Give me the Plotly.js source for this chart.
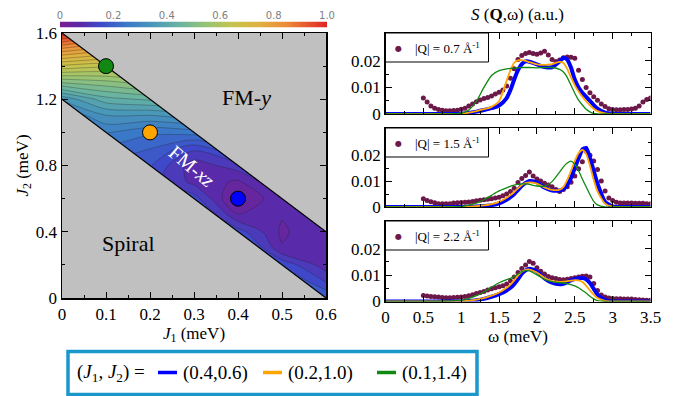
<!DOCTYPE html>
<html><head><meta charset="utf-8">
<script src="https://cdn.plot.ly/plotly-3.0.1.min.js"></script>
<style>html,body{margin:0;padding:0;background:#fff}#chart{width:676px;height:396px}</style>
</head><body><div id="chart"></div>
<script>
// ---------------- DATA ----------------
// Phase diagram grid (J1 columns, J2 rows), order-parameter value
const J1_GRID = [0, 0.1, 0.2, 0.3, 0.4, 0.5, 0.6];
const J2_GRID = [0, 0.1, 0.2, 0.3, 0.4, 0.5, 0.6, 0.7, 0.8, 0.9, 1.0, 1.1, 1.2, 1.3, 1.4, 1.5, 1.6];
const ORDER_PARAM = [
  [0.20, 0.20, 0.20, 0.20, 0.22, 0.22, 0.20],
  [0.20, 0.20, 0.20, 0.20, 0.22, 0.22, 0.13],
  [0.20, 0.20, 0.20, 0.20, 0.22, 0.16, 0.08],
  [0.20, 0.20, 0.20, 0.20, 0.22, 0.07, 0.08],
  [0.20, 0.20, 0.20, 0.22, 0.15, 0.06, 0.10],
  [0.20, 0.20, 0.20, 0.20, 0.07, 0.07, 0.13],
  [0.20, 0.20, 0.18, 0.15, 0.02, 0.10, 0.15],
  [0.20, 0.20, 0.15, 0.09, 0.06, 0.14, 0.16],
  [0.20, 0.20, 0.17, 0.08, 0.12, 0.16, 0.18],
  [0.22, 0.22, 0.20, 0.14, 0.20, 0.20, 0.20],
  [0.20, 0.27, 0.24, 0.25, 0.25, 0.25, 0.25],
  [0.26, 0.33, 0.33, 0.35, 0.35, 0.35, 0.35],
  [0.34, 0.42, 0.44, 0.45, 0.45, 0.45, 0.45],
  [0.50, 0.52, 0.55, 0.55, 0.55, 0.55, 0.55],
  [0.66, 0.64, 0.65, 0.65, 0.65, 0.65, 0.65],
  [0.82, 0.78, 0.75, 0.75, 0.75, 0.75, 0.75],
  [1.00, 0.92, 0.85, 0.85, 0.85, 0.85, 0.85]
];
// Phase boundaries of the FM-xz band (J2 = 1.6-2J1 and J2 = 1.2-2J1)
const BOUND_J1 = [-0.05, 0.65];
const UPPER_J2 = [1.7, 0.3];
const LOWER_J2 = [1.3, -0.1];
// Selected (J1,J2) parameter points
const PT_J1 = [0.4, 0.2, 0.1];
const PT_J2 = [0.6, 1.0, 1.4];
const PT_COLORS = ['#0000ff', '#ffa500', '#118811'];

// S(Q,w) panels
const Q_LABELS = ['0.7', '1.5', '2.2'];
const OMEGA_DATA = [0.50,0.55,0.60,0.65,0.70,0.75,0.80,0.85,0.90,0.95,
  1.00,1.05,1.10,1.15,1.20,1.25,1.30,1.35,1.40,1.45,
  1.50,1.55,1.60,1.65,1.70,1.75,1.80,1.85,1.90,1.95,
  2.00,2.05,2.10,2.15,2.20,2.25,2.30,2.35,2.40,2.45,
  2.50,2.55,2.60,2.65,2.70,2.75,2.80,2.85,2.90,2.95,
  3.00,3.05,3.10,3.15,3.20,3.25,3.30,3.35,3.40,3.45,3.50];
const S_DATA_Q07 = [0.0060,0.0045,0.0030,0.0022,0.0017,0.0014,0.0012,0.0012,0.0013,0.0014,
  0.0018,0.0022,0.0030,0.0038,0.0046,0.0053,0.0058,0.0062,0.0068,0.0075,
  0.0082,0.0090,0.0105,0.0135,0.0170,0.0205,0.0220,0.0228,0.0232,0.0228,
  0.0225,0.0230,0.0236,0.0222,0.0205,0.0198,0.0203,0.0212,0.0215,0.0214,
  0.0210,0.0165,0.0130,0.0100,0.0080,0.0065,0.0052,0.0038,0.0028,0.0020,
  0.0017,0.0016,0.0016,0.0017,0.0017,0.0019,0.0022,0.0030,0.0045,0.0055,0.0060];
const S_DATA_Q15 = [0.0032,0.0025,0.0020,0.0016,0.0013,0.0013,0.0013,0.0013,0.0015,0.0016,
  0.0017,0.0018,0.0019,0.0021,0.0024,0.0026,0.0028,0.0030,0.0032,0.0035,
  0.0038,0.0043,0.0050,0.0060,0.0072,0.0095,0.0110,0.0122,0.0135,0.0120,
  0.0108,0.0100,0.0092,0.0085,0.0078,0.0068,0.0060,0.0068,0.0078,0.0096,
  0.0120,0.0148,0.0175,0.0215,0.0200,0.0178,0.0145,0.0100,0.0062,0.0035,
  0.0025,0.0018,0.0015,0.0015,0.0015,0.0015,0.0014,0.0014,0.0014,0.0013,0.0013];
const S_DATA_Q22 = [0.0023,0.0021,0.0019,0.0018,0.0017,0.0015,0.0014,0.0014,0.0015,0.0016,
  0.0017,0.0019,0.0022,0.0026,0.0030,0.0034,0.0038,0.0044,0.0048,0.0052,
  0.0056,0.0060,0.0066,0.0078,0.0093,0.0110,0.0125,0.0138,0.0152,0.0145,
  0.0128,0.0115,0.0104,0.0095,0.0090,0.0087,0.0083,0.0082,0.0084,0.0087,
  0.0090,0.0093,0.0096,0.0097,0.0093,0.0068,0.0042,0.0025,0.0017,0.0013,
  0.0011,0.0010,0.0010,0.0009,0.0009,0.0009,0.0008,0.0007,0.0006,0.0005,0.0005];

const OMEGA_FIT = [0, 0.8, 1.0, 1.1, 1.2, 1.3, 1.4, 1.5, 1.6, 1.65, 1.7, 1.75, 1.8, 1.85, 1.9,
  2.0, 2.1, 2.2, 2.3, 2.35, 2.4, 2.45, 2.5, 2.55, 2.6, 2.65, 2.7, 2.75, 2.8, 2.9, 3.0, 3.1, 3.5];
// fits for (0.4,0.6) blue, (0.2,1.0) orange, (0.1,1.4) green
const FIT_Q07_A = [0,0,0.0001,0.0004,0.0009,0.0015,0.0022,0.0032,0.0060,0.0090,0.0130,0.0165,0.0188,0.0198,0.0197,
  0.0187,0.0177,0.0176,0.0198,0.0212,0.0205,0.0175,0.0130,0.0100,0.0080,0.0065,0.0050,0.0033,0.0020,0.0005,0.0001,0,0];
const FIT_Q07_B = [0,0,0.0001,0.0005,0.0011,0.0018,0.0027,0.0048,0.0125,0.0165,0.0193,0.0202,0.0203,0.0200,0.0195,
  0.0187,0.0185,0.0188,0.0196,0.0192,0.0170,0.0138,0.0108,0.0085,0.0065,0.0048,0.0033,0.0020,0.0011,0.0002,0,0,0];
const FIT_Q07_C = [0,0,0.0003,0.0015,0.0048,0.0100,0.0145,0.0163,0.0170,0.0172,0.0173,0.0174,0.0175,0.0175,0.0175,
  0.0174,0.0175,0.0175,0.0168,0.0158,0.0138,0.0108,0.0078,0.0052,0.0034,0.0018,0.0008,0.0002,0,0,0,0,0];
const FIT_Q15_A = [0,0,0,0.0001,0.0002,0.0004,0.0007,0.0014,0.0028,0.0038,0.0050,0.0066,0.0082,0.0093,0.0100,
  0.0095,0.0075,0.0064,0.0064,0.0070,0.0085,0.0112,0.0150,0.0188,0.0222,0.0228,0.0190,0.0140,0.0090,0.0020,0.0002,0,0];
const FIT_Q15_B = [0,0,0,0.0001,0.0003,0.0006,0.0011,0.0020,0.0036,0.0046,0.0058,0.0072,0.0085,0.0092,0.0095,
  0.0090,0.0076,0.0066,0.0067,0.0078,0.0105,0.0140,0.0178,0.0208,0.0220,0.0205,0.0160,0.0105,0.0060,0.0013,0.0001,0,0];
const FIT_Q15_C = [0,0,0.0002,0.0007,0.0015,0.0028,0.0045,0.0062,0.0074,0.0080,0.0084,0.0087,0.0089,0.0089,0.0087,
  0.0081,0.0080,0.0098,0.0135,0.0155,0.0170,0.0177,0.0165,0.0140,0.0108,0.0078,0.0048,0.0022,0.0008,0,0,0,0];
const FIT_Q22_A = [0,0,0,0.0002,0.0005,0.0010,0.0018,0.0028,0.0042,0.0052,0.0066,0.0085,0.0105,0.0118,0.0124,
  0.0114,0.0088,0.0071,0.0065,0.0067,0.0073,0.0080,0.0085,0.0088,0.0089,0.0084,0.0070,0.0048,0.0026,0.0005,0,0,0];
const FIT_Q22_B = [0,0,0,0.0003,0.0007,0.0013,0.0022,0.0034,0.0052,0.0064,0.0080,0.0098,0.0113,0.0120,0.0121,
  0.0110,0.0090,0.0077,0.0074,0.0075,0.0077,0.0079,0.0081,0.0080,0.0074,0.0060,0.0042,0.0026,0.0013,0.0002,0,0,0];
const FIT_Q22_C = [0,0.0001,0.0005,0.0012,0.0022,0.0036,0.0054,0.0071,0.0083,0.0088,0.0094,0.0104,0.0113,0.0117,0.0116,
  0.0101,0.0084,0.0075,0.0071,0.0070,0.0068,0.0064,0.0059,0.0052,0.0042,0.0032,0.0020,0.0010,0.0003,0,0,0,0];

const CB_TICKS = [0, 0.2, 0.4, 0.6, 0.8, 1.0];
const CB_TICKTEXT = ['0', '0.2', '0.4', '0.6', '0.8', '1.0'];
const S_TICKS = [0, 0.01, 0.02];
const S_TICKTEXT = ['0', '0.01', '0.02'];

// ---------------- STYLE ----------------
const W = 676, H = 396;
const px = a => a / W;
const py = b => 1 - b / H;
const SERIF = 'Liberation Serif';
const DOT_COLOR = '#6c1848';
const FIT_COLORS = PT_COLORS;
const FIT_WIDTHS = [4, 1.8, 1.3];
const GRAY = '#c0c0c0';
const COLORSCALE = [
  [0.00, '#7a1e8e'], [0.08, '#5a2aa8'], [0.15, '#3e48c8'], [0.25, '#3a78c8'],
  [0.35, '#4a98b8'], [0.45, '#6ab4a0'], [0.55, '#98c474'], [0.65, '#c6c44c'],
  [0.75, '#e0b040'], [0.85, '#ec8a38'], [1.00, '#e02424']
];

const traces = [];
traces.push({
  type: 'contour', x: J1_GRID, y: J2_GRID, z: ORDER_PARAM, xaxis: 'x', yaxis: 'y',
  colorscale: COLORSCALE, zmin: 0, zmax: 1, showscale: false, hoverinfo: 'skip',
  contours: {start: 0, end: 1, size: 1/30, coloring: 'fill'},
  line: {color: 'rgba(30,30,30,0.5)', width: 0.6, smoothing: 0.8}
});
traces.push({
  type: 'scatter', mode: 'lines', xaxis: 'x', yaxis: 'y', hoverinfo: 'skip', showlegend: false,
  x: [BOUND_J1[0], BOUND_J1[1], 0.7, 0.7, BOUND_J1[0]],
  y: [UPPER_J2[0], UPPER_J2[1], UPPER_J2[1], 1.8, 1.8],
  fill: 'toself', fillcolor: GRAY, line: {width: 0}
});
traces.push({
  type: 'scatter', mode: 'lines', xaxis: 'x', yaxis: 'y', hoverinfo: 'skip', showlegend: false,
  x: [BOUND_J1[0], BOUND_J1[1], BOUND_J1[0]],
  y: [LOWER_J2[0], LOWER_J2[1], LOWER_J2[1]],
  fill: 'toself', fillcolor: GRAY, line: {width: 0}
});
[UPPER_J2, LOWER_J2].forEach(b => traces.push({
  type: 'scatter', mode: 'lines', xaxis: 'x', yaxis: 'y', hoverinfo: 'skip', showlegend: false,
  x: BOUND_J1, y: b, line: {color: '#000', width: 1.2}
}));
traces.push({
  type: 'scatter', mode: 'markers', xaxis: 'x', yaxis: 'y', showlegend: false,
  x: PT_J1, y: PT_J2, cliponaxis: false,
  marker: {color: PT_COLORS, size: 15, line: {color: '#000', width: 1}}
});

const DATA_SETS = [S_DATA_Q07, S_DATA_Q15, S_DATA_Q22];
const FITS = [[FIT_Q07_A, FIT_Q07_B, FIT_Q07_C], [FIT_Q15_A, FIT_Q15_B, FIT_Q15_C], [FIT_Q22_A, FIT_Q22_B, FIT_Q22_C]];
const FIT_NAMES = PT_J1.map((a, i) => '(' + a.toFixed(1) + ',' + PT_J2[i].toFixed(1) + ')');
for (let k = 0; k < 3; k++) {
  const xa = 'x' + (k + 2), ya = 'y' + (k + 2);
  traces.push({
    type: 'scatter', mode: 'markers', xaxis: xa, yaxis: ya, showlegend: false,
    x: OMEGA_DATA, y: DATA_SETS[k], marker: {color: DOT_COLOR, size: 5}
  });
  for (let f = 0; f < 3; f++) {
    traces.push({
      type: 'scatter', mode: 'lines', xaxis: xa, yaxis: ya, showlegend: false, name: FIT_NAMES[f],
      x: OMEGA_FIT, y: FITS[k][f],
      line: {color: FIT_COLORS[f], width: FIT_WIDTHS[f], shape: 'spline', smoothing: 0.6}
    });
  }
}
const CB_X = [];
for (let i = 0; i <= 200; i++) CB_X.push(i / 200);
traces.push({
  type: 'heatmap', xaxis: 'x5', yaxis: 'y5', x: CB_X, y: [0], z: [CB_X],
  colorscale: COLORSCALE, zmin: 0, zmax: 1, showscale: false, hoverinfo: 'skip'
});

// ---------------- LAYOUT ----------------
const tickFont = {family: SERIF, size: 17, color: '#000'};
function frameAxis(extra) {
  return Object.assign({
    showline: true, linecolor: '#000', linewidth: 1.3, mirror: 'ticks',
    ticks: 'inside', ticklen: 6, tickwidth: 1, tickcolor: '#000',
    showgrid: false, zeroline: false, tickfont: tickFont, fixedrange: true
  }, extra);
}
const RX = [px(385.5), px(650.5)];
const PANEL_Y = [[py(114), py(33)], [py(207), py(128)], [py(301.5), py(221)]];

const layout = {
  width: W, height: H, margin: {l: 0, r: 0, t: 0, b: 0},
  paper_bgcolor: '#fff', plot_bgcolor: '#fff', showlegend: false,
  font: {family: SERIF},
  xaxis: frameAxis({domain: [px(62), px(326)], anchor: 'y', range: [0, 0.6], tick0: 0, dtick: 0.1,
    linewidth: 1.5, minor: {dtick: 0.05, ticklen: 3, ticks: 'inside', tickcolor: '#000'},
    title: {text: '<i>J</i><sub>1</sub> (meV)', font: {family: SERIF, size: 17, color: '#000'}, standoff: 0}}),
  yaxis: frameAxis({domain: [py(298), py(33)], anchor: 'x', range: [0, 1.6], tick0: 0, dtick: 0.4,
    linewidth: 1.5, minor: {dtick: 0.2, ticklen: 3, ticks: 'inside', tickcolor: '#000'},
    title: {text: '<i>J</i><sub>2</sub> (meV)', font: {family: SERIF, size: 17, color: '#000'}, standoff: 3}}),
  xaxis5: {domain: [px(60), px(327)], anchor: 'y5', side: 'top', range: [0, 1],
    tickvals: CB_TICKS, ticktext: CB_TICKTEXT, ticks: '', showline: false, showgrid: false, zeroline: false,
    tickfont: {family: 'DejaVu Sans', size: 10, color: '#808080'}, fixedrange: true},
  yaxis5: {domain: [py(27.5), py(21.5)], anchor: 'x5', range: [-0.5, 0.5], visible: false, fixedrange: true},
  shapes: [], annotations: []
};
for (let k = 0; k < 3; k++) {
  const n = k + 2;
  layout['xaxis' + n] = frameAxis({domain: RX, anchor: 'y' + n, range: [0, 3.5], tick0: 0, dtick: 0.5,
    minor: {dtick: 0.25, ticklen: 3, ticks: 'inside', tickcolor: '#000'},
    showticklabels: k === 2,
    title: k === 2 ? {text: 'ω (meV)', font: {family: SERIF, size: 17, color: '#000'}, standoff: 0} : undefined});
  layout['yaxis' + n] = frameAxis({domain: PANEL_Y[k], anchor: 'x' + n, range: [0, 0.0305],
    tickvals: S_TICKS, ticktext: S_TICKTEXT,
    minor: {tickvals: [0.005, 0.015, 0.025], ticklen: 3, ticks: 'inside', tickcolor: '#000'}});
  const hPanel = (PANEL_Y[k][1] - PANEL_Y[k][0]) * H;
  const wPanel = 265;
  layout.shapes.push({type: 'rect', xref: 'x' + n + ' domain', yref: 'y' + n + ' domain',
    x0: 0, x1: 103 / wPanel, y0: 1 - 29 / hPanel, y1: 1, line: {color: '#000', width: 1}, fillcolor: '#fff'});
  layout.annotations.push({xref: 'x' + n + ' domain', yref: 'y' + n + ' domain', x: 13 / wPanel, y: 1 - 15 / hPanel,
    xanchor: 'center', yanchor: 'middle', text: '●', showarrow: false, font: {family: 'DejaVu Sans', size: 8, color: DOT_COLOR}});
  layout.annotations.push({xref: 'x' + n + ' domain', yref: 'y' + n + ' domain', x: 27 / wPanel, y: 1 - 15 / hPanel,
    xanchor: 'left', yanchor: 'middle', text: '|Q| = ' + Q_LABELS[k] + ' Å<sup>-1</sup>', showarrow: false,
    font: {family: SERIF, size: 13, color: '#000'}});
}
layout.annotations.push(
  {xref: 'x', yref: 'y', x: 0.42, y: 1.21, xanchor: 'center', yanchor: 'middle', text: 'FM-<i>y</i>', showarrow: false,
    font: {family: SERIF, size: 22, color: '#000'}},
  {xref: 'x', yref: 'y', x: 0.15, y: 0.33, xanchor: 'center', yanchor: 'middle', text: 'Spiral', showarrow: false,
    font: {family: SERIF, size: 22, color: '#000'}},
  {xref: 'x', yref: 'y', x: 0.295, y: 0.80, xanchor: 'center', yanchor: 'middle', text: 'FM-<i>xz</i>', textangle: 40,
    showarrow: false, font: {family: SERIF, size: 20, color: '#fff'}},
  {xref: 'paper', yref: 'paper', x: px(517), y: py(15), xanchor: 'center', yanchor: 'middle',
    text: '<i>S</i> (<b>Q</b>,ω) (a.u.)', showarrow: false, font: {family: SERIF, size: 17, color: '#000'}}
);
layout.shapes.push({type: 'rect', xref: 'paper', yref: 'paper', x0: px(68), x1: px(477), y0: py(394.5), y1: py(351.5),
  line: {color: '#1a98cc', width: 3.5}, fillcolor: 'rgba(0,0,0,0)'});
layout.annotations.push({xref: 'paper', yref: 'paper', x: px(75), y: py(373), xanchor: 'left', yanchor: 'middle', showarrow: false,
  text: '(<i>J</i><sub>1</sub>, <i>J</i><sub>2</sub>) =', font: {family: SERIF, size: 19, color: '#000'}});
const KEY_X = [158, 263, 377];
FIT_NAMES.forEach((nm, i) => {
  layout.shapes.push({type: 'line', xref: 'paper', yref: 'paper', x0: px(KEY_X[i]), x1: px(KEY_X[i] + 19),
    y0: py(372.5), y1: py(372.5), line: {color: FIT_COLORS[i], width: 3.5}});
  layout.annotations.push({xref: 'paper', yref: 'paper', x: px(KEY_X[i] + 23), y: py(373), xanchor: 'left', yanchor: 'middle',
    showarrow: false, text: nm, font: {family: SERIF, size: 19, color: '#000'}});
});

Plotly.newPlot('chart', traces, layout, {displayModeBar: false, staticPlot: true});
</script></body></html>
